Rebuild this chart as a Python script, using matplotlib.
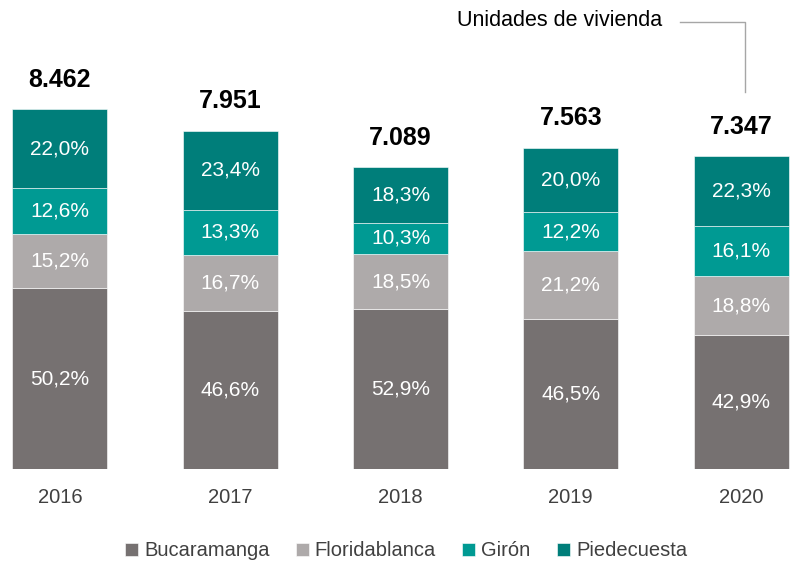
import matplotlib
matplotlib.use("Agg", force=True)
import matplotlib.pyplot as plt
import numpy as np

years = ["2016", "2017", "2018", "2019", "2020"]
totals = [8462, 7951, 7089, 7563, 7347]
total_labels = ["8.462", "7.951", "7.089", "7.563", "7.347"]
municipios = ["Bucaramanga", "Floridablanca", "Girón", "Piedecuesta"]
shares = {
    "Bucaramanga": [50.2, 46.6, 52.9, 46.5, 42.9],
    "Floridablanca": [15.2, 16.7, 18.5, 21.2, 18.8],
    "Girón": [12.6, 13.3, 10.3, 12.2, 16.1],
    "Piedecuesta": [22.0, 23.4, 18.3, 20.0, 22.3],
}
colors = ["#767171", "#AEAAAA", "#009A93", "#007E7A"]

plt.rcParams["font.family"] = ["Liberation Sans Narrow", "Liberation Sans", "DejaVu Sans"]

fig = plt.figure(figsize=(7.93, 5.66), dpi=100)
ax = fig.add_axes([0, 0.1714, 1, 0.8286])

x = np.arange(len(years))
tot = np.asarray(totals, dtype=float)
bottom = np.zeros(len(years))
for name, color in zip(municipios, colors):
    pct = np.asarray(shares[name])
    h = tot * pct / 100.0
    ax.bar(x, h, bottom=bottom, width=0.558, color=color, label=name,
           edgecolor="white", linewidth=0.4)
    for xi, b, hi, p in zip(x, bottom, h, pct):
        ax.text(xi, b + hi / 2, f"{p:.1f}%".replace(".", ","), ha="center", va="center",
                color="white", fontsize=15)
    bottom += h

for xi, t, lab in zip(x, tot, total_labels):
    ax.text(xi, t + 690, lab, ha="center", va="center", fontsize=18,
            fontweight="bold", color="black")

ax.set_xlim(-0.352, 4.305)
ax.set_ylim(0, 11024)
ax.set_xticks(x)
ax.set_xticklabels(years, fontsize=14.5, color="#404040")
ax.tick_params(axis="x", length=0, pad=14)
ax.set_yticks([])
for s in ax.spines.values():
    s.set_visible(False)

# annotation text and connector line
fig.text(662 / 793, 1 - 20 / 566, "Unidades de vivienda", ha="right", va="center",
         fontsize=15.5, color="black")
fig.add_artist(plt.Line2D([680 / 793, 745 / 793, 745 / 793],
                          [1 - 22 / 566, 1 - 22 / 566, 1 - 92 / 566],
                          color="#A6A6A6", linewidth=1))

fig.legend(loc="center", bbox_to_anchor=(0.512, 1 - 551 / 566), ncol=4, frameon=False,
           fontsize=14.5, handlelength=0.65, handleheight=0.65, handletextpad=0.3,
           columnspacing=1.3, labelcolor="#404040")

fig.savefig("out.png", dpi=100)
plt.close(fig)
